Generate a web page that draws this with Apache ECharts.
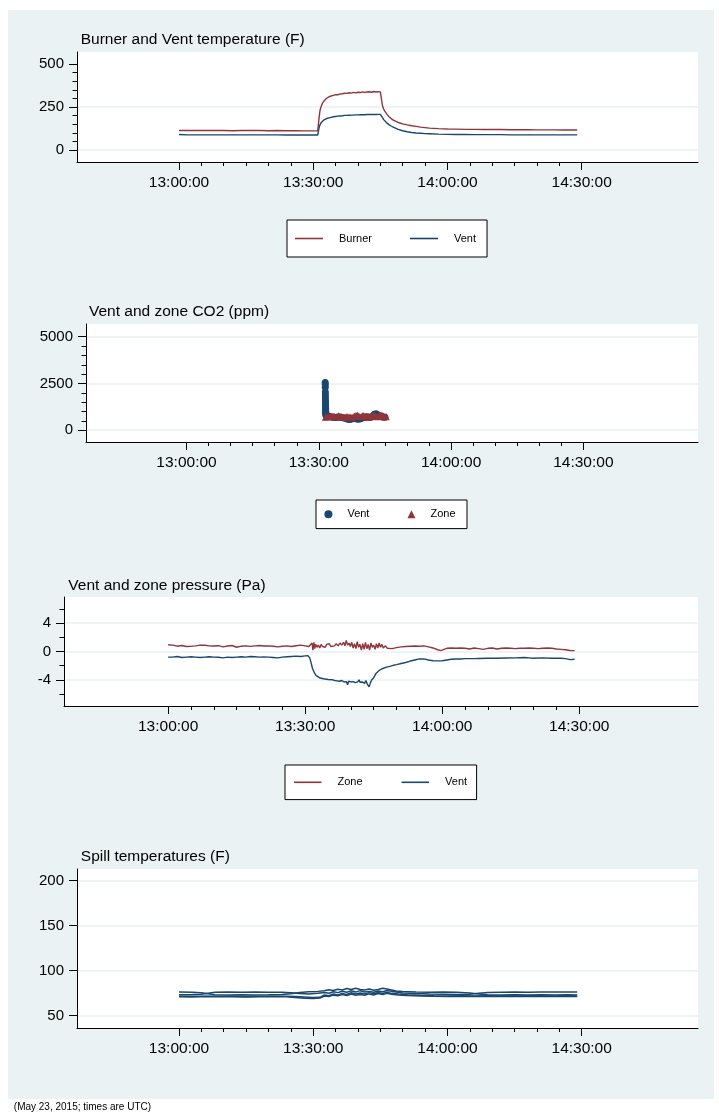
<!DOCTYPE html>
<html>
<head>
<meta charset="utf-8">
<script src="https://cdn.jsdelivr.net/npm/echarts@6.0.0/dist/echarts.min.js"></script>
<style>
  html, body { margin: 0; padding: 0; background: #ffffff; }
  #chart { width: 719px; height: 1114px; }
</style>
</head>
<body>
<div id="chart"></div>
<script>
// ---- Data: minutes after 13:00 UTC, May 23, 2015 ----

// Burner and vent temperature (F)
const tempTimes = [0, 2, 4, 6, 8, 10, 12, 14, 16, 18, 20, 22, 24, 26, 28, 30,
  31, 31.15, 31.3, 31.5, 31.75, 32, 32.3, 32.6, 33,
  33.5, 34, 34.5, 35, 35.5, 36, 36.5, 37, 37.5, 38, 38.5, 39, 39.5, 40, 40.5, 41, 41.5, 42, 42.5, 43, 43.5, 44, 44.5, 45,
  45.3, 45.45, 45.7, 46, 46.5, 47, 47.5, 48, 49, 50, 51, 52, 53, 54, 55, 56,
  58, 60, 62, 64, 66, 68, 70, 72, 74, 76, 78, 80, 82, 84, 86, 88, 89];
const burnerTemp = [113, 113, 114, 113, 113, 113, 112, 113, 113, 113, 112, 113, 112, 112, 111, 111,
  111, 112, 185, 228, 252, 268, 282, 292, 301,
  309, 314, 318, 322, 321, 326, 327, 330, 329, 333, 331, 335, 332, 336, 334, 338, 335, 337, 339, 336, 340, 337, 339, 338,
  336, 262, 240, 226, 207, 192, 181, 172, 160, 152, 146, 141, 137, 133, 130, 127,
  124, 122, 121, 120, 120, 119, 119, 119, 118, 118, 118, 117, 117, 117, 116, 116, 116];
const ventTemp = [90, 88, 88, 88, 88, 88, 88, 88, 88, 88, 88, 88, 87, 87, 87, 87,
  87, 88, 128, 146, 158, 166, 173, 178, 183,
  187, 190, 193, 195, 197, 198, 199, 201, 201, 202, 203, 203, 204, 204, 205, 205, 205, 206, 206, 206, 207, 206, 207, 207,
  208, 190, 178, 168, 156, 146, 138, 131, 120, 112, 106, 102, 99, 97, 95, 94,
  92, 91, 90, 90, 89, 89, 89, 89, 88, 88, 88, 88, 88, 88, 88, 88, 88];

// Vent and zone CO2 (ppm)
const ventCo2Times = [31.45, 31.46, 31.47, 31.48, 31.49, 31.5, 31.5, 31.51, 31.52, 31.53, 31.54, 31.55, 31.56, 31.57, 31.58, 31.6,
  32.2, 32.6, 33, 33.4, 33.8, 34.2, 34.6, 35, 35.4, 35.8, 36.2, 36.6, 37, 37.4, 37.8, 38.2, 38.6, 39, 39.4, 39.8,
  40.2, 40.6, 41, 41.4, 41.8, 42.2, 42.6, 43, 43.4, 43.8, 44.2, 44.6, 45];
const ventCo2 = [2550, 2450, 2300, 2050, 1900, 1750, 1620, 1500, 1400, 1280, 1180, 1080, 1000, 930, 870, 820,
  760, 720, 700, 690, 680, 700, 710, 690, 670, 650, 620, 590, 570, 600, 620, 640, 600, 580, 610, 650,
  680, 700, 720, 690, 700, 760, 850, 880, 820, 760, 720, 700, 690];
const zoneCo2Times = [31.5, 31.8, 32.1, 32.4, 32.7, 33, 33.3, 33.6, 33.9, 34.2, 34.5, 34.8, 35.1, 35.4, 35.7, 36,
  36.3, 36.6, 36.9, 37.2, 37.5, 37.8, 38.1, 38.4, 38.7, 39, 39.3, 39.6, 39.9, 40.2, 40.5, 40.8, 41.1, 41.4, 41.7,
  42, 42.3, 42.6, 42.9, 43.2, 43.5, 43.8, 44.1, 44.4, 44.7, 45, 45.3];
const zoneCo2 = [700, 720, 740, 730, 720, 760, 740, 730, 720, 740, 780, 750, 720, 700, 690, 700,
  720, 730, 710, 700, 690, 720, 760, 790, 820, 760, 730, 740, 770, 790, 760, 720, 700, 710, 730,
  760, 800, 770, 740, 720, 740, 800, 830, 790, 760, 740, 720];

// Vent and zone pressure (Pa): [minute, value]
const zonePressure = [[0, 0.95], [1, 0.9], [2, 0.75], [3, 0.85], [4, 0.7], [5, 0.72], [6, 0.8], [7, 0.9], [8, 0.88], [9, 0.8],
  [10, 0.78], [11, 0.82], [12, 0.65], [13, 0.78], [14, 0.85], [15, 0.6], [16, 0.75], [17, 0.8], [18, 0.72], [19, 0.8],
  [20, 0.85], [21, 0.78], [22, 0.8], [23, 0.75], [24, 0.65], [25, 0.75], [26, 0.8], [27, 0.7], [28, 0.82], [29, 0.9],
  [30, 0.8], [30.8, 0.7], [31.2, 0.5], [31.5, 1.2], [31.7, 0.2], [31.9, 1.3], [32.1, 0.4], [32.3, 1.0], [32.6, 0.6], [32.9, 0.9],
  [33.2, 0.5], [33.5, 1.0], [33.8, 0.7], [34.1, 0.9], [34.4, 0.6], [34.7, 1.0], [35, 0.8], [35.3, 1.1], [35.6, 0.7], [36, 0.9],
  [36.4, 0.8], [36.8, 1.1], [37.2, 0.8], [37.6, 1.2], [38, 0.9], [38.4, 1.3], [38.7, 0.8], [39, 1.55], [39.3, 0.9], [39.6, 1.2],
  [39.9, 0.7], [40.2, 1.3], [40.5, 0.5], [40.8, 1.1], [41.1, 0.4], [41.4, 1.4], [41.7, 0.6], [42, 1.0], [42.3, 0.2], [42.6, 1.1],
  [42.9, 0.3], [43.2, 1.3], [43.5, 0.4], [43.8, 1.0], [44.1, 0.2], [44.4, 1.2], [44.7, 0.6], [45, 0.9], [45.3, 0.3], [45.6, 1.1],
  [45.9, 0.5], [46.2, 1.2], [46.5, 0.6], [46.8, 1.0], [47.1, 0.5], [47.5, 0.8], [48, 0.45], [49, 0.4], [50, 0.55], [51, 0.65],
  [52, 0.7], [53, 0.75], [54, 0.78], [55, 0.75], [56, 0.8], [57, 0.65], [58, 0.5], [59, 0.25], [59.5, 0.15], [60, 0.2],
  [61, 0.45], [62, 0.5], [63, 0.45], [64, 0.5], [65, 0.45], [66, 0.35], [67, 0.5], [68, 0.4], [69, 0.3], [70, 0.45],
  [71, 0.5], [72, 0.35], [73, 0.45], [74, 0.5], [75, 0.45], [76, 0.4], [77, 0.45], [78, 0.45], [79, 0.5], [80, 0.45],
  [81, 0.4], [82, 0.45], [83, 0.5], [84, 0.45], [85, 0.35], [86, 0.3], [87, 0.25], [88, 0.15], [89, 0.12]];
const ventPressure = [[0, -0.8], [1, -0.8], [2, -0.7], [3, -0.85], [4, -0.8], [5, -0.75], [6, -0.8], [7, -0.85], [8, -0.8], [9, -0.75],
  [10, -0.8], [11, -0.82], [12, -0.9], [13, -0.8], [14, -0.85], [15, -0.8], [16, -0.75], [17, -0.8], [18, -0.7], [19, -0.75],
  [20, -0.8], [21, -0.78], [22, -0.8], [23, -0.85], [24, -0.9], [25, -0.8], [26, -0.75], [27, -0.7], [28, -0.65], [29, -0.7],
  [30, -0.62], [30.6, -0.6], [31, -0.9], [31.3, -1.6], [31.6, -2.4], [32, -3.0], [32.4, -3.4], [32.8, -3.6], [33.3, -3.75], [34, -3.85],
  [35, -3.95], [36, -4.0], [36.5, -4.1], [37, -4.15], [37.5, -4.2], [38, -4.1], [38.5, -4.3], [39, -4.25], [39.3, -4.7], [39.5, -4.2],
  [40, -4.3], [40.5, -4.25], [41, -4.4], [41.5, -4.3], [41.8, -4.0], [42, -4.35], [42.5, -4.3], [43, -4.5], [43.3, -4.1], [43.6, -4.6],
  [44, -5.0], [44.3, -4.4], [44.6, -4.0], [45, -3.7], [45.5, -3.1], [46, -2.8], [46.5, -2.55], [47, -2.4], [47.8, -2.2], [48.5, -2.1],
  [49.3, -1.95], [50, -1.85], [51, -1.7], [52, -1.55], [53, -1.35], [54, -1.2], [55, -1.05], [56, -1.05], [57, -1.2], [58, -1.3],
  [59, -1.32], [60, -1.3], [61, -1.2], [62, -1.1], [63, -1.05], [64, -1.05], [65, -1.0], [66, -1.0], [67, -1.0], [68, -0.98],
  [70, -0.95], [72, -0.95], [74, -0.92], [76, -0.9], [78, -0.85], [79, -0.9], [80, -0.95], [82, -0.9], [84, -0.95], [86, -0.95],
  [87, -1.0], [88, -1.15], [89, -1.1]];

// Spill temperatures (F): [minute, value], one list per sensor
const spill1 = [[0, 76.2], [3, 76], [5, 75.6], [6.5, 74.4], [8, 73.3], [11, 73.1], [14, 73.3], [17, 73.1], [20, 73.2], [23, 73.4],
  [25, 74.4], [27, 75.8], [29, 76.6], [31, 77], [32.5, 77.6], [33.5, 78.8], [34.5, 78], [35.5, 79.4], [36.5, 78.5], [37.5, 80.2],
  [38.5, 79], [39.5, 80.4], [40.5, 79.2], [41.5, 78.5], [42.5, 79.6], [43.5, 78.3], [44.5, 79], [45.5, 80.4], [46.5, 79.6], [47.5, 78.5],
  [48.5, 77.4], [50, 76.8], [53, 76.3], [56, 76.1], [59, 76.2], [62, 75.9], [65, 75.2], [67, 74], [69, 73.2], [72, 73],
  [75, 73.2], [78, 73.1], [81, 73.3], [84, 73.1], [87, 73.2], [89, 73.1]];
const spill2 = [[0, 73.2], [3, 73.4], [5, 73.8], [6.5, 75], [8, 76], [11, 76.2], [14, 76], [17, 76.2], [20, 76.1], [23, 75.9],
  [25, 75.4], [27, 74.6], [29, 74.2], [31, 74.8], [32.5, 75.8], [33.5, 75], [34.5, 76.6], [35.5, 75.6], [36.5, 77.2], [37.5, 76],
  [38.5, 77.6], [39.5, 76.2], [40.5, 77.8], [41.5, 76.4], [42.5, 77], [43.5, 76], [44.5, 77.4], [45.5, 76.6], [46.5, 78], [47.5, 77.2],
  [48.5, 76.4], [50, 75.2], [53, 74.6], [56, 74.2], [59, 73.9], [62, 73.6], [65, 73.9], [67, 75], [69, 75.8], [72, 76],
  [75, 76.2], [78, 76.1], [81, 76.3], [84, 76.2], [87, 76.4], [89, 76.3]];
const spill3 = [[0, 71], [3, 70.8], [6, 71.2], [9, 70.9], [12, 71.1], [15, 70.8], [18, 71], [21, 71.2], [24, 71], [26, 70.2],
  [28, 69.4], [30, 69.2], [31.5, 69.6], [32.5, 71.8], [33.5, 71.2], [34.5, 72.8], [35.5, 72], [36.5, 73.4], [37.5, 72.4], [38.5, 74],
  [39.5, 72.8], [40.5, 73.6], [41.5, 72.6], [42.5, 74.2], [43.5, 73], [44.5, 74.6], [45.5, 73.4], [46.5, 74.8], [47.5, 73.8], [49, 73],
  [51, 72.4], [54, 71.9], [57, 71.6], [60, 71.4], [63, 71.6], [66, 71.3], [69, 71.5], [72, 71.3], [75, 71.5], [78, 71.4],
  [81, 71.6], [84, 71.4], [87, 71.5], [89, 71.4]];
const spill4 = [[0, 71.6], [3, 71.5], [6, 71.7], [9, 71.5], [12, 71.6], [15, 71.4], [18, 71.6], [21, 71.7], [24, 71.6], [26, 71.2],
  [28, 70.8], [30, 70.2], [31.5, 70.4], [32.5, 73], [33.5, 72.2], [34.5, 74], [35.5, 73], [36.5, 74.8], [37.5, 73.6], [38.5, 75.4],
  [39.5, 74.2], [40.5, 75.2], [41.5, 74], [42.5, 75.6], [43.5, 74.4], [44.5, 75.8], [45.5, 74.6], [46.5, 76], [47.5, 74.8], [49, 74],
  [51, 73.2], [54, 72.6], [57, 72.2], [60, 72], [63, 72.1], [66, 71.9], [69, 72.1], [72, 71.9], [75, 72], [78, 72.1],
  [81, 71.9], [84, 72], [87, 72.1], [89, 72]];

// Axis tick values
const xMajorTicks = [0, 30, 60, 90];
const xMinorTicks = [5, 10, 15, 20, 25, 35, 40, 45, 50, 55, 65, 70, 75, 80, 85];
const tempTicks = [0, 250, 500];
const tempMinorTicks = [50, 100, 150, 200, 300, 350, 400, 450];
const co2Ticks = [0, 2500, 5000];
const co2MinorTicks = [500, 1000, 1500, 2000, 3000, 3500, 4000, 4500];
const pressureTicks = [-4, 0, 4];
const pressureMinorTicks = [-6, -2, 2, 6];
const spillTicks = [50, 100, 150, 200];

// ---- Styling ----
const FONT = 'Arial, "Liberation Sans", Helvetica, sans-serif';
const NAVY = '#1a476f';
const MAROON = '#90353b';
const PANEL_BG = '#eaf2f3';
const X_MIN = -22.8, X_MAX = 116.0;

function pad2(n) { return (n < 10 ? '0' : '') + n; }
function clock(m) {
  const s = Math.round((13 * 60 + m) * 60);
  return pad2(Math.floor(s / 3600)) + ':' + pad2(Math.floor((s % 3600) / 60)) + ':' + pad2(s % 60);
}
function zip(times, values) { return times.map((t, i) => [t, values[i]]); }

const panels = [
  { title: 'Burner and Vent temperature (F)', titleX: 80.7, titleY: 40,
    grid: { left: 77, top: 52, width: 621, height: 110 },
    yMin: -70, yMax: 570, yTicks: tempTicks, yMinor: tempMinorTicks, yGrid: [0, 250] },
  { title: 'Vent and zone CO2 (ppm)', titleX: 89, titleY: 312,
    grid: { left: 86, top: 324, width: 612, height: 118 },
    yMin: -630, yMax: 5680, yTicks: co2Ticks, yMinor: co2MinorTicks, yGrid: [0, 2500, 5000] },
  { title: 'Vent and zone pressure (Pa)', titleX: 68.3, titleY: 585.3,
    grid: { left: 64, top: 597, width: 634, height: 109 },
    yMin: -7.7, yMax: 7.7, yTicks: pressureTicks, yMinor: pressureMinorTicks, yGrid: [-4, 0, 4] },
  { title: 'Spill temperatures (F)', titleX: 80.8, titleY: 856.7,
    grid: { left: 77, top: 869, width: 621, height: 159 },
    yMin: 36.3, yMax: 213, yTicks: spillTicks, yMinor: null, yGrid: [50, 100, 150, 200] }
];

const axisColor = '#000';
const xLabelStyle = { color: '#000', fontFamily: FONT, fontSize: 15.5 };
const yLabelStyle = { color: '#000', fontFamily: FONT, fontSize: 15 };

const grids = [], xAxes = [], yAxes = [];
panels.forEach((p, i) => {
  grids.push(Object.assign({ show: true, backgroundColor: '#ffffff', borderWidth: 0,
    containLabel: false, outerBoundsMode: 'none' }, p.grid));
  // major x ticks with clock labels
  xAxes.push({ gridIndex: i, type: 'value', position: 'bottom', min: X_MIN, max: X_MAX,
    axisLine: { show: true, onZero: false, lineStyle: { color: axisColor, width: 1 } },
    axisTick: { show: true, customValues: xMajorTicks, length: 8, lineStyle: { color: axisColor, width: 1 } },
    axisLabel: Object.assign({ show: true, customValues: xMajorTicks, formatter: clock, margin: 13 }, xLabelStyle),
    splitLine: { show: false } });
  // minor x ticks
  xAxes.push({ gridIndex: i, type: 'value', position: 'bottom', min: X_MIN, max: X_MAX,
    axisLine: { show: false, onZero: false },
    axisTick: { show: true, customValues: xMinorTicks, length: 4, lineStyle: { color: axisColor, width: 1 } },
    axisLabel: { show: false }, splitLine: { show: false } });
  // major y ticks with labels
  yAxes.push({ gridIndex: i, type: 'value', position: 'left', min: p.yMin, max: p.yMax,
    axisLine: { show: true, onZero: false, lineStyle: { color: axisColor, width: 1 } },
    axisTick: { show: true, customValues: p.yTicks, length: 8, lineStyle: { color: axisColor, width: 1 } },
    axisLabel: Object.assign({ show: true, customValues: p.yTicks, margin: 13, formatter: v => String(v) }, yLabelStyle),
    splitLine: { show: false } });
  // minor y ticks
  yAxes.push({ gridIndex: i, type: 'value', position: 'left', min: p.yMin, max: p.yMax,
    axisLine: { show: false, onZero: false },
    axisTick: { show: !!p.yMinor, customValues: p.yMinor || [p.yTicks[0]], length: 4.5, lineStyle: { color: axisColor, width: 1 } },
    axisLabel: { show: false }, splitLine: { show: false } });
  // horizontal grid lines
  yAxes.push({ gridIndex: i, type: 'value', position: 'left', min: p.yMin, max: p.yMax,
    axisLine: { show: false, onZero: false },
    axisTick: { show: false, customValues: p.yGrid },
    axisLabel: { show: false },
    splitLine: { show: true, lineStyle: { color: PANEL_BG, width: 1.6 } } });
});

function lineSeries(name, panel, data, color, width) {
  return { name, type: 'line', xAxisIndex: panel * 2, yAxisIndex: panel * 3, data,
    symbol: 'none', showSymbol: false, lineStyle: { color, width: width || 1.4 }, itemStyle: { color },
    emphasis: { disabled: true }, z: 3 };
}

const series = [
  lineSeries('Burner', 0, zip(tempTimes, burnerTemp), MAROON),
  lineSeries('Vent temperature', 0, zip(tempTimes, ventTemp), NAVY),
  { name: 'Vent CO2', type: 'scatter', xAxisIndex: 2, yAxisIndex: 3, data: zip(ventCo2Times, ventCo2),
    symbol: 'circle', symbolSize: 7, itemStyle: { color: NAVY, opacity: 1 }, z: 3 },
  { name: 'Zone CO2', type: 'scatter', xAxisIndex: 2, yAxisIndex: 3, data: zip(zoneCo2Times, zoneCo2),
    symbol: 'triangle', symbolSize: 7, itemStyle: { color: MAROON, opacity: 1 }, z: 4 },
  lineSeries('Zone pressure', 2, zonePressure, MAROON),
  lineSeries('Vent pressure', 2, ventPressure, NAVY),
  lineSeries('Spill 1', 3, spill1, NAVY, 1.5),
  lineSeries('Spill 2', 3, spill2, NAVY, 1.5),
  lineSeries('Spill 3', 3, spill3, NAVY, 1.5),
  lineSeries('Spill 4', 3, spill4, NAVY, 1.5)
];

const legendText = { 'Burner': 'Burner', 'Vent temperature': 'Vent', 'Vent CO2': 'Vent',
  'Zone CO2': 'Zone', 'Zone pressure': 'Zone', 'Vent pressure': 'Vent' };
function legendBox(names, icon, left, top, padding, itemW, itemH, gap, textPad) {
  return { data: names.map(n => icon ? { name: n, icon } : n), left, top, orient: 'horizontal', padding,
    itemWidth: itemW, itemHeight: itemH,
    itemGap: gap, backgroundColor: '#ffffff', borderColor: '#000', borderWidth: 1, borderRadius: 0,
    selectedMode: false, formatter: n => legendText[n],
    textStyle: { color: '#000', fontFamily: FONT, fontSize: 11, lineHeight: 14, padding: [0, 0, 0, textPad] } };
}

// line keys are drawn as thin bars; marker keys use the series symbols
const legends = [
  legendBox(['Burner', 'Vent temperature'], 'rect', 287, 220, [11.5, 11, 11.5, 8], 28, 1.6, 38, 11),
  legendBox(['Vent CO2', 'Zone CO2'], null, 316, 500, [7.3, 11.5, 7.3, 8.4], 8, 8, 38, 10),
  legendBox(['Zone pressure', 'Vent pressure'], 'rect', 285, 765, [10.3, 9.5, 10.3, 9], 27.5, 1.6, 39, 11)
];

const graphics = [
  { type: 'rect', silent: true, z: -10, shape: { x: 8, y: 10, width: 706, height: 1089 }, style: { fill: PANEL_BG } }
];
panels.forEach(p => {
  graphics.push({ type: 'text', silent: true, x: p.titleX, y: p.titleY,
    style: { text: p.title, fill: '#000', font: '15.5px ' + FONT, verticalAlign: 'middle', textVerticalAlign: 'middle' } });
});
graphics.push({ type: 'text', silent: true, x: 13.8, y: 1107.7,
  style: { text: '(May 23, 2015; times are UTC)', fill: '#000', font: '10px ' + FONT, verticalAlign: 'middle', textVerticalAlign: 'middle' } });

const chart = echarts.init(document.getElementById('chart'), null, { renderer: 'canvas' });
chart.setOption({
  animation: false,
  backgroundColor: '#ffffff',
  textStyle: { fontFamily: FONT },
  grid: grids,
  xAxis: xAxes,
  yAxis: yAxes,
  legend: legends,
  graphic: graphics,
  series
});
</script>
</body>
</html>
